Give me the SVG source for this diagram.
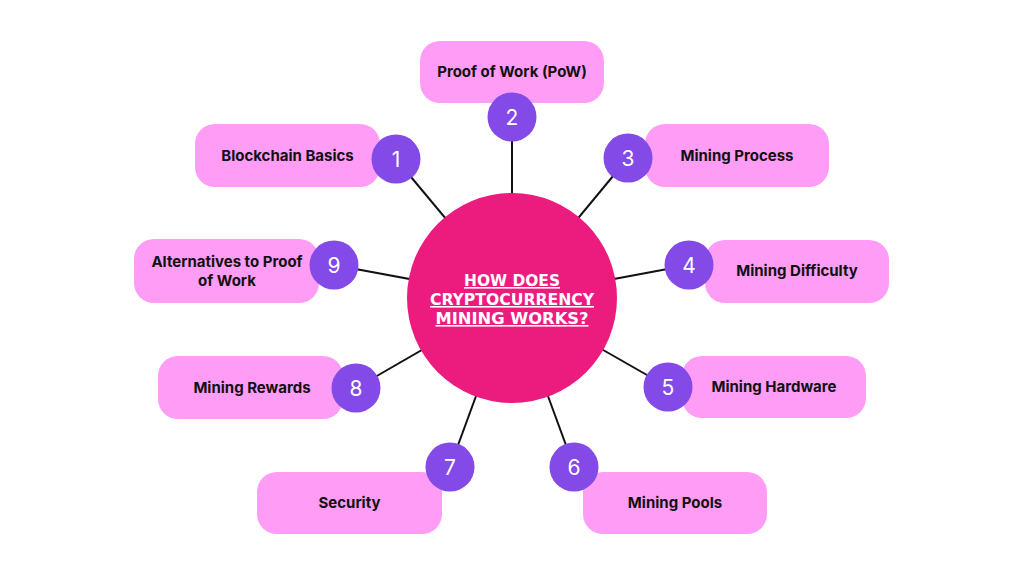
<svg xmlns="http://www.w3.org/2000/svg" width="1024" height="576" viewBox="0 0 1024 576">
<style>
.box{fill:#ff9cf6}
.num{fill:#834ae8}
.lbl{font-family:Inter,"Noto Sans",sans-serif;font-weight:700;font-size:15px;fill:#111;text-anchor:middle}
.n{font-family:Inter,"DejaVu Sans",sans-serif;font-weight:400;font-size:21px;fill:#fff;text-anchor:middle}
.title{font-family:"DejaVu Sans Condensed","DejaVu Sans",sans-serif;font-stretch:condensed;font-weight:700;font-size:16px;fill:#fff;text-anchor:middle;text-decoration:underline}
.conn{stroke:#111;stroke-width:2;fill:none}
</style>
<rect width="1024" height="576" fill="#fff"/>
<g id="connectors" class="conn">
<line x1="512" y1="298" x2="396" y2="159"/>
<line x1="512" y1="298" x2="512" y2="117"/>
<line x1="512" y1="298" x2="628" y2="158"/>
<line x1="512" y1="298" x2="689" y2="265"/>
<line x1="512" y1="298" x2="668" y2="387"/>
<line x1="512" y1="298" x2="574" y2="467"/>
<line x1="512" y1="298" x2="450" y2="467"/>
<line x1="512" y1="298" x2="356" y2="388"/>
<line x1="512" y1="298" x2="334" y2="265"/>
</g>
<g id="center">
<circle cx="512" cy="298" r="105" fill="#ec1c7f"/>
<text class="title" x="512" y="286" textLength="96" lengthAdjust="spacingAndGlyphs">HOW DOES</text>
<text class="title" x="512" y="305" textLength="164" lengthAdjust="spacingAndGlyphs">CRYPTOCURRENCY</text>
<text class="title" x="512" y="324" textLength="153" lengthAdjust="spacingAndGlyphs">MINING WORKS?</text>
</g>
<g id="node1">
<rect class="box" x="195" y="124" width="185" height="63" rx="20"/>
<text class="lbl" x="287.5" y="161">Blockchain Basics</text>
<circle class="num" cx="396" cy="159" r="24.5"/>
<text class="n" x="396" y="166.5">1</text>
</g>
<g id="node2">
<rect class="box" x="420" y="41" width="184" height="62" rx="20"/>
<text class="lbl" x="512" y="77">Proof of Work (PoW)</text>
<circle class="num" cx="512" cy="117" r="24.5"/>
<text class="n" x="512" y="124.5">2</text>
</g>
<g id="node3">
<rect class="box" x="645" y="124" width="184" height="63" rx="20"/>
<text class="lbl" x="737" y="161">Mining Process</text>
<circle class="num" cx="628" cy="158" r="24.5"/>
<text class="n" x="628" y="165.5">3</text>
</g>
<g id="node4">
<rect class="box" x="705" y="240" width="184" height="63" rx="20"/>
<text class="lbl" x="797" y="276">Mining Difficulty</text>
<circle class="num" cx="689" cy="265" r="24.5"/>
<text class="n" x="689" y="272.5">4</text>
</g>
<g id="node5">
<rect class="box" x="682" y="356" width="184" height="62" rx="20"/>
<text class="lbl" x="774" y="392">Mining Hardware</text>
<circle class="num" cx="668" cy="387" r="24.5"/>
<text class="n" x="668" y="394.5">5</text>
</g>
<g id="node6">
<rect class="box" x="583" y="472" width="184" height="62" rx="20"/>
<text class="lbl" x="675" y="508">Mining Pools</text>
<circle class="num" cx="574" cy="467" r="24.5"/>
<text class="n" x="574" y="474.5">6</text>
</g>
<g id="node7">
<rect class="box" x="257" y="472" width="185" height="62" rx="20"/>
<text class="lbl" x="349.5" y="508">Security</text>
<circle class="num" cx="450" cy="467" r="24.5"/>
<text class="n" x="450" y="474.5">7</text>
</g>
<g id="node8">
<rect class="box" x="158" y="356" width="185" height="63" rx="20"/>
<text class="lbl" x="252" y="393">Mining Rewards</text>
<circle class="num" cx="356" cy="388" r="24.5"/>
<text class="n" x="356" y="395.5">8</text>
</g>
<g id="node9">
<rect class="box" x="134" y="239" width="185" height="64" rx="20"/>
<text class="lbl" x="227" y="267">Alternatives to Proof</text>
<text class="lbl" x="227" y="286">of Work</text>
<circle class="num" cx="334" cy="265" r="24.5"/>
<text class="n" x="334" y="272.5">9</text>
</g>
</svg>
